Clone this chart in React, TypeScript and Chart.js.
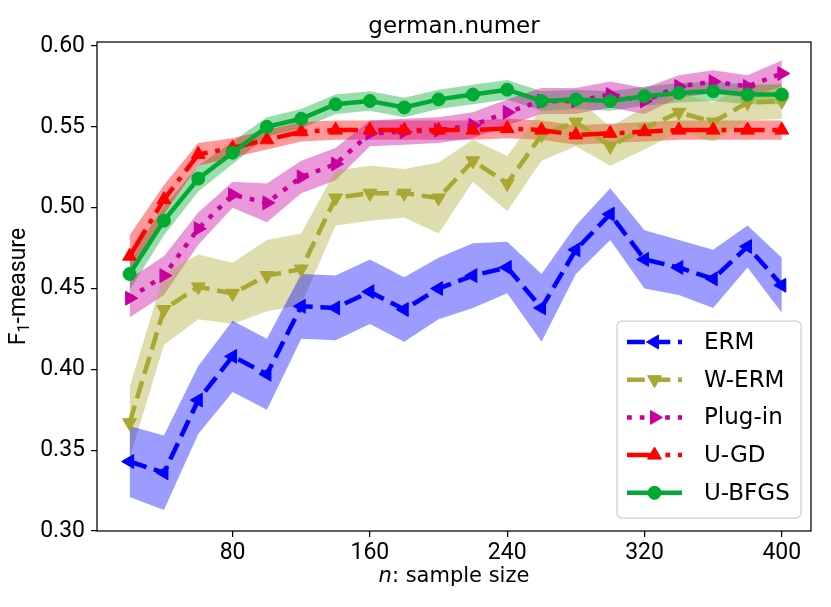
import { useEffect, useRef } from "react";
import { Chart, registerables } from "chart.js";

Chart.register(...registerables);

// sample sizes on the x axis
const sampleSizes = [20, 40, 60, 80, 100, 120, 140, 160, 180, 200, 220, 240, 260, 280, 300, 320, 340, 360, 380, 400];
const xTicks = [80, 160, 240, 320, 400];
const yTicks = [0.30, 0.35, 0.40, 0.45, 0.50, 0.55, 0.60];

const seriesNames = ["ERM", "W-ERM", "Plug-in", "U-GD", "U-BFGS"];

// mean F1 per method
const ermMean = [0.343, 0.336, 0.381, 0.408, 0.397, 0.439, 0.438, 0.448, 0.437, 0.450, 0.458, 0.463, 0.438, 0.474, 0.496, 0.468, 0.463, 0.456, 0.476, 0.452];
const wermMean = [0.367, 0.437, 0.451, 0.447, 0.458, 0.462, 0.506, 0.509, 0.509, 0.506, 0.529, 0.515, 0.545, 0.553, 0.538, 0.549, 0.559, 0.553, 0.565, 0.566];
const pluginMean = [0.444, 0.458, 0.487, 0.508, 0.503, 0.519, 0.527, 0.546, 0.547, 0.548, 0.551, 0.559, 0.566, 0.566, 0.570, 0.566, 0.575, 0.578, 0.575, 0.583];
const ugdMean = [0.470, 0.505, 0.533, 0.537, 0.542, 0.547, 0.548, 0.548, 0.548, 0.548, 0.548, 0.549, 0.548, 0.545, 0.546, 0.547, 0.548, 0.548, 0.548, 0.548];
const ubfgsMean = [0.459, 0.492, 0.518, 0.534, 0.550, 0.555, 0.564, 0.566, 0.562, 0.567, 0.570, 0.573, 0.566, 0.567, 0.566, 0.569, 0.571, 0.572, 0.570, 0.570];

// half width of the shaded band
const ermStd = [0.022, 0.023, 0.021, 0.022, 0.022, 0.020, 0.020, 0.020, 0.020, 0.019, 0.020, 0.016, 0.021, 0.015, 0.016, 0.018, 0.017, 0.018, 0.013, 0.017];
const wermStd = [0.022, 0.022, 0.020, 0.019, 0.022, 0.022, 0.017, 0.017, 0.015, 0.022, 0.013, 0.017, 0.016, 0.015, 0.012, 0.013, 0.012, 0.012, 0.011, 0.011];
const pluginStd = [0.012, 0.012, 0.010, 0.008, 0.012, 0.010, 0.010, 0.008, 0.008, 0.008, 0.008, 0.008, 0.008, 0.008, 0.008, 0.008, 0.007, 0.007, 0.007, 0.008];
const ugdStd = [0.013, 0.009, 0.007, 0.006, 0.006, 0.006, 0.006, 0.006, 0.006, 0.006, 0.006, 0.006, 0.006, 0.006, 0.006, 0.006, 0.006, 0.006, 0.006, 0.006];
const ubfgsStd = [0.010, 0.009, 0.008, 0.007, 0.006, 0.006, 0.006, 0.006, 0.006, 0.006, 0.006, 0.006, 0.006, 0.006, 0.006, 0.006, 0.006, 0.006, 0.006, 0.006];

const means = [ermMean, wermMean, pluginMean, ugdMean, ubfgsMean];
const stds = [ermStd, wermStd, pluginStd, ugdStd, ubfgsStd];

const TEXT_FONT = "'DejaVu Sans', sans-serif";
const TICK_FONT = "Roboto, 'DejaVu Sans', sans-serif";
const LW = 4.5;

const styles = [
  { color: "#0000ff", band: "rgba(0,0,255,0.39)", dash: [17.8, 7.7], marker: "triangle", rot: 270, r: 8 },
  { color: "#a8a832", band: "rgba(170,170,51,0.4)", dash: [17.8, 7.7], marker: "triangle", rot: 180, r: 8 },
  { color: "#c8009e", band: "rgba(200,0,158,0.4)", dash: [4.8, 7.9], marker: "triangle", rot: 90, r: 8 },
  { color: "#ff0000", band: "rgba(255,0,0,0.4)", dash: [30.7, 7.7, 4.8, 7.7], marker: "triangle", rot: 0, r: 8 },
  { color: "#00aa33", band: "rgba(0,170,51,0.4)", dash: [], marker: "circle", rot: 0, r: 6.5 },
];

function drawMarker(ctx: CanvasRenderingContext2D, kind: string, x: number, y: number, r: number, rotDeg: number) {
  ctx.beginPath();
  if (kind === "circle") {
    ctx.arc(x, y, r, 0, Math.PI * 2);
  } else {
    let rad = (rotDeg * Math.PI) / 180;
    for (let k = 0; k < 3; k++) {
      const px = x + Math.sin(rad) * r;
      const py = y - Math.cos(rad) * r;
      if (k === 0) ctx.moveTo(px, py);
      else ctx.lineTo(px, py);
      rad += (2 * Math.PI) / 3;
    }
    ctx.closePath();
  }
  ctx.fill();
  ctx.stroke();
}

const decorPlugin = {
  id: "decor",
  afterDraw(chart: any) {
    const { ctx, chartArea: a } = chart;
    ctx.save();

    // frame
    ctx.strokeStyle = "#000";
    ctx.lineWidth = 1.25;
    ctx.setLineDash([]);
    ctx.strokeRect(a.left, a.top, a.right - a.left, a.bottom - a.top);

    ctx.fillStyle = "#000";
    const cx = (a.left + a.right) / 2;

    // title
    ctx.font = `23px ${TEXT_FONT}`;
    ctx.textAlign = "center";
    ctx.textBaseline = "alphabetic";
    ctx.fillText("german.numer", cx, a.top - 9);

    // x label with italic n
    ctx.font = `italic 21px ${TEXT_FONT}`;
    const w1 = ctx.measureText("n").width;
    ctx.font = `21px ${TEXT_FONT}`;
    const w2 = ctx.measureText(": sample size").width;
    const x0 = cx - (w1 + w2) / 2;
    ctx.textAlign = "left";
    ctx.font = `italic 21px ${TEXT_FONT}`;
    ctx.fillText("n", x0, 582);
    ctx.font = `21px ${TEXT_FONT}`;
    ctx.fillText(": sample size", x0 + w1, 582);

    // y label with subscript
    ctx.save();
    ctx.translate(25, (a.top + a.bottom) / 2);
    ctx.rotate(-Math.PI / 2);
    ctx.font = `23px ${TICK_FONT}`;
    const fW = ctx.measureText("F").width;
    ctx.font = `16px ${TICK_FONT}`;
    const sW = ctx.measureText("1").width;
    ctx.font = `23px ${TICK_FONT}`;
    const mW = ctx.measureText("-measure").width;
    let tx = -(fW + sW + mW) / 2;
    ctx.fillText("F", tx, 0);
    tx += fW;
    ctx.font = `16px ${TICK_FONT}`;
    ctx.fillText("1", tx, 4);
    tx += sW;
    ctx.font = `23px ${TICK_FONT}`;
    ctx.fillText("-measure", tx, 0);
    ctx.restore();

    // legend
    const lw = 184;
    const lh = 197;
    const lx = a.right - 10 - lw;
    const ly = a.bottom - 13 - lh;
    ctx.beginPath();
    ctx.roundRect(lx, ly, lw, lh, 5);
    ctx.fillStyle = "rgba(255,255,255,0.8)";
    ctx.fill();
    ctx.strokeStyle = "#d0d0d0";
    ctx.lineWidth = 1.25;
    ctx.stroke();

    seriesNames.forEach((name, i) => {
      const s = styles[i];
      const ry = ly + 21 + i * 37.7;
      ctx.strokeStyle = s.color;
      ctx.fillStyle = s.color;
      ctx.lineWidth = LW;
      ctx.setLineDash(s.dash);
      ctx.lineDashOffset = 0;
      ctx.beginPath();
      ctx.moveTo(lx + 10, ry);
      ctx.lineTo(lx + 65, ry);
      ctx.stroke();
      ctx.setLineDash([]);
      ctx.lineWidth = 1;
      drawMarker(ctx, s.marker, lx + 37.5, ry, s.r, s.rot);
      ctx.fillStyle = "#000";
      ctx.font = `23px ${TEXT_FONT}`;
      ctx.textAlign = "left";
      ctx.textBaseline = "middle";
      ctx.fillText(name, lx + 87, ry + 1);
    });

    ctx.restore();
  },
};

export default function App() {
  const chartRef = useRef<HTMLCanvasElement>(null);
  const chartInstance = useRef<Chart | null>(null);

  useEffect(() => {
    if (!chartRef.current) return;
    if (chartInstance.current) chartInstance.current.destroy();
    const ctx = chartRef.current.getContext("2d");
    if (!ctx) return;

    const bandSets: any[] = [];
    const lineSets: any[] = [];
    means.forEach((m, i) => {
      const s = styles[i];
      bandSets.push({
        label: seriesNames[i] + " upper",
        data: sampleSizes.map((x, k) => ({ x, y: m[k] + stds[i][k] })),
        fill: "+1",
        backgroundColor: s.band,
        borderColor: "transparent",
        borderWidth: 0,
        pointRadius: 0,
        order: 20,
      });
      bandSets.push({
        label: seriesNames[i] + " lower",
        data: sampleSizes.map((x, k) => ({ x, y: m[k] - stds[i][k] })),
        fill: false,
        borderColor: "transparent",
        borderWidth: 0,
        pointRadius: 0,
        order: 20,
      });
      lineSets.push({
        label: seriesNames[i],
        data: sampleSizes.map((x, k) => ({ x, y: m[k] })),
        fill: false,
        borderColor: s.color,
        backgroundColor: s.color,
        borderWidth: LW,
        borderDash: s.dash,
        pointStyle: s.marker,
        pointRotation: s.rot,
        pointRadius: s.r,
        pointBorderWidth: 1,
        pointBackgroundColor: s.color,
        pointBorderColor: s.color,
        order: 5 - i,
      });
    });

    chartInstance.current = new Chart(ctx, {
      type: "line",
      data: { datasets: [...bandSets, ...lineSets] },
      options: {
        responsive: false,
        animation: false,
        devicePixelRatio: 1,
        layout: { padding: { left: 0, top: 42, right: 20, bottom: 0 } },
        plugins: {
          legend: { display: false },
          tooltip: { enabled: false },
          title: { display: false },
        },
        elements: { line: { tension: 0 } },
        scales: {
          x: {
            type: "linear",
            min: 1,
            max: 417,
            afterBuildTicks: (scale: any) => {
              scale.ticks = xTicks.map((v) => ({ value: v }));
            },
            afterFit: (scale: any) => {
              scale.height = 76;
            },
            border: { display: false },
            grid: { drawOnChartArea: false, drawTicks: true, tickLength: 6, color: "#000", lineWidth: 1.25 },
            ticks: {
              color: "#000",
              padding: 2,
              maxRotation: 0,
              font: { family: TICK_FONT, size: 23 },
              callback: (v: any) => String(v),
            },
          },
          y: {
            type: "linear",
            min: 0.3,
            max: 0.6025,
            afterBuildTicks: (scale: any) => {
              scale.ticks = yTicks.map((v) => ({ value: v }));
            },
            afterFit: (scale: any) => {
              scale.width = 97;
            },
            border: { display: false },
            grid: { drawOnChartArea: false, drawTicks: true, tickLength: 6, color: "#000", lineWidth: 1.25 },
            ticks: {
              color: "#000",
              padding: 6,
              font: { family: TICK_FONT, size: 23 },
              callback: (v: any) => Number(v).toFixed(2),
            },
          },
        },
      },
      plugins: [decorPlugin],
    });

    return () => {
      if (chartInstance.current) {
        chartInstance.current.destroy();
        chartInstance.current = null;
      }
    };
  }, []);

  return (
    <div style={{ position: "absolute", left: 0, top: 0, width: 831, height: 607, background: "#fff" }}>
      <canvas ref={chartRef} width={831} height={607}></canvas>
    </div>
  );
}
